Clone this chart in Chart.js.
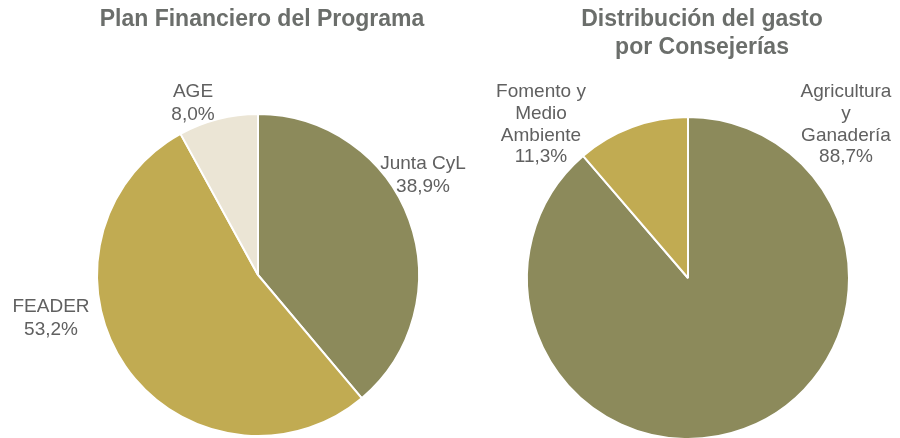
<!DOCTYPE html>
<html>
<head>
<meta charset="utf-8">
<script src="https://cdn.jsdelivr.net/npm/chart.js@4"></script>
<style>
  html, body { margin: 0; padding: 0; background: #fff; overflow: hidden; }
  .wrap { position: absolute; top: 0; height: 460px; }
</style>
</head>
<body>
<div class="wrap" style="left:0; width:480px"><canvas id="left"></canvas></div>
<div class="wrap" style="left:450px; width:450px"><canvas id="right"></canvas></div>
<script>
const planLabels = ["Junta CyL", "FEADER", "AGE"];
const planValues = [38.9, 53.2, 8.0];
const planColors = ["#8c8a5b", "#c1ab52", "#ebe5d5"];

const gastoLabels = [["Agricultura", "y", "Ganadería"], ["Fomento y", "Medio", "Ambiente"]];
const gastoValues = [88.7, 11.3];
const gastoColors = ["#8c8a5b", "#c1ab52"];

const fmt = (v) => v.toFixed(1).replace(".", ",") + "%";

// titles and slice labels drawn on the canvas
const textPlugin = {
  id: "pieText",
  afterDraw(chart, args, opts) {
    const ctx = chart.ctx;
    ctx.save();
    ctx.textAlign = "center";
    ctx.textBaseline = "middle";
    ctx.fillStyle = "#6b6e6b";
    ctx.font = "bold 23px 'Liberation Sans', Arial, sans-serif";
    opts.title.forEach((t, i) => ctx.fillText(t, opts.titleX, opts.titleY + i * 28));

    ctx.fillStyle = "#606060";
    ctx.font = "19px 'Liberation Sans', Arial, sans-serif";
    const ds = chart.data.datasets[0];
    chart.data.labels.forEach((lab, i) => {
      const lines = [].concat(lab, fmt(ds.data[i]));
      const p = opts.pos[i];
      lines.forEach((l, j) => ctx.fillText(l, p[0], p[1] + j * opts.lineH));
    });
    ctx.restore();
  }
};

function makePie(id, labels, values, colors, padding, text) {
  return new Chart(document.getElementById(id), {
    type: "pie",
    data: {
      labels: labels,
      datasets: [{
        data: values,
        backgroundColor: colors,
        borderColor: "#ffffff",
        borderWidth: 2
      }]
    },
    options: {
      responsive: true,
      maintainAspectRatio: false,
      animation: false,
      radius: 161,
      layout: { padding: padding },
      plugins: {
        legend: { display: false },
        tooltip: { enabled: false },
        pieText: text
      }
    },
    plugins: [textPlugin]
  });
}

makePie("left", planLabels, planValues, planColors,
  { left: 97, right: 61, top: 114, bottom: 24 },
  { title: ["Plan Financiero del Programa"], titleX: 262, titleY: 20, lineH: 23,
    pos: [[423, 164], [51, 307], [193, 92]] });

makePie("right", gastoLabels, gastoValues, gastoColors,
  { left: 77, right: 51, top: 117, bottom: 21 },
  { title: ["Distribución del gasto", "por Consejerías"], titleX: 252, titleY: 20, lineH: 21.7,
    pos: [[396, 92], [91, 92]] });
</script>
</body>
</html>
